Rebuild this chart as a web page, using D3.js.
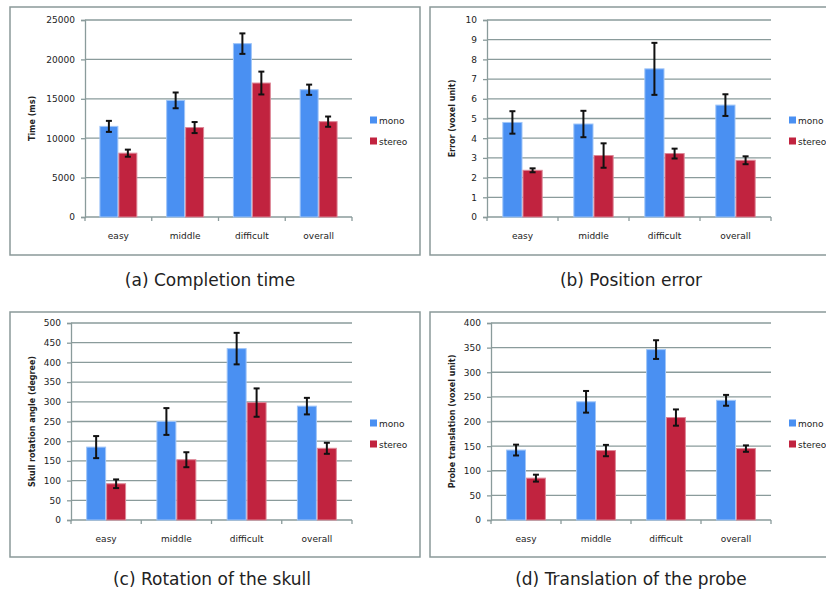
<!DOCTYPE html>
<html>
<head>
<meta charset="utf-8">
<script src="https://cdn.jsdelivr.net/npm/d3@7"></script>
<style>
  body { margin: 0; background: #fff; }
  svg { display: block; }
  text { font-family: "DejaVu Sans", sans-serif; fill: #222; }
</style>
</head>
<body>
<svg id="chart" width="826" height="590"></svg>
<script>
const categories = ["easy", "middle", "difficult", "overall"];
const series = ["mono", "stereo"];

// (a) completion time, ms
const timeMono = [11500, 14800, 22000, 16150];
const timeMonoErr = [700, 1000, 1300, 650];
const timeStereo = [8100, 11350, 17000, 12100];
const timeStereoErr = [450, 700, 1450, 650];

// (b) position error, voxel unit
const errorMono = [4.8, 4.72, 7.52, 5.68];
const errorMonoErr = [0.57, 0.67, 1.32, 0.55];
const errorStereo = [2.37, 3.12, 3.22, 2.88];
const errorStereoErr = [0.1, 0.62, 0.25, 0.2];

// (c) skull rotation angle, degree
const rotMono = [185, 250, 435, 289];
const rotMonoErr = [28, 34, 40, 21];
const rotStereo = [92, 153, 298, 182];
const rotStereoErr = [11, 19, 36, 14];

// (d) probe translation, voxel unit
const transMono = [142, 240, 346, 243];
const transMonoErr = [11, 22, 19, 11];
const transStereo = [85, 141, 208, 145];
const transStereoErr = [7, 11.5, 16.5, 6.5];

const colors = { mono: "#4a90f2", stereo: "#c1233f" };
const edge = { mono: "#9fc5f8", stereo: "#dd8797" };
const gridColor = "#8a9b9b";

const svg = d3.select("#chart");

function drawPanel(p) {
  const g = svg.append("g");
  g.append("rect")
    .attr("x", p.frame[0]).attr("y", p.frame[1])
    .attr("width", p.frame[2] - p.frame[0]).attr("height", p.frame[3] - p.frame[1])
    .attr("fill", "none").attr("stroke", "#8a9999").attr("stroke-width", 1.5);

  const x0 = d3.scaleBand().domain(categories).range([p.left, p.right]);
  const x1 = d3.scaleBand().domain(series).range([0, x0.bandwidth()]).paddingOuter(0.76);
  const y = d3.scaleLinear().domain([0, p.max]).range([p.bottom, p.top]);
  const ticks = d3.range(0, p.max + p.step / 2, p.step);

  // gridlines
  g.append("g").selectAll("line").data(ticks.slice(1)).join("line")
    .attr("x1", p.left).attr("x2", p.right)
    .attr("y1", d => y(d)).attr("y2", d => y(d))
    .attr("stroke", gridColor).attr("stroke-width", 1.3);

  // y axis
  const ya = g.append("g").attr("transform", `translate(${p.left},0)`)
    .call(d3.axisLeft(y).tickValues(ticks).tickSize(4).tickPadding(6).tickFormat(d3.format("d")));
  ya.select(".domain").attr("stroke", gridColor).attr("stroke-width", 1.3);
  ya.selectAll(".tick line").attr("stroke", gridColor).attr("stroke-width", 1.3);
  ya.selectAll(".tick text").attr("font-size", 9).attr("font-family", "DejaVu Sans").attr("fill", "#222");

  // x axis
  const bounds = categories.map(c => x0(c)).concat([p.right]);
  g.append("line").attr("x1", p.left).attr("x2", p.right)
    .attr("y1", p.bottom).attr("y2", p.bottom)
    .attr("stroke", gridColor).attr("stroke-width", 1.3);
  g.append("g").selectAll("line").data(bounds).join("line")
    .attr("x1", d => d).attr("x2", d => d)
    .attr("y1", p.bottom).attr("y2", p.bottom + 4)
    .attr("stroke", gridColor).attr("stroke-width", 1.3);
  g.append("g").selectAll("text").data(categories).join("text")
    .attr("x", d => x0(d) + x0.bandwidth() / 2)
    .attr("y", p.bottom + 22)
    .attr("text-anchor", "middle").attr("font-size", 9)
    .text(d => d);

  // bars + error bars
  const rows = [];
  categories.forEach((c, i) => {
    rows.push({ c, s: "mono", v: p.mono[i], e: p.monoErr[i] });
    rows.push({ c, s: "stereo", v: p.stereo[i], e: p.stereoErr[i] });
  });
  g.append("g").selectAll("rect").data(rows).join("rect")
    .attr("x", d => x0(d.c) + x1(d.s) + 0.5)
    .attr("y", d => y(d.v))
    .attr("width", x1.bandwidth() - 1)
    .attr("height", d => p.bottom - y(d.v))
    .attr("fill", d => colors[d.s])
    .attr("stroke", d => edge[d.s]).attr("stroke-width", 1);

  const eb = g.append("g").selectAll("g").data(rows).join("g")
    .attr("transform", d => `translate(${x0(d.c) + x1(d.s) + x1.bandwidth() / 2},0)`)
    .attr("stroke", "#111").attr("stroke-width", 2);
  eb.append("line").attr("y1", d => y(d.v + d.e)).attr("y2", d => y(d.v - d.e));
  eb.append("line").attr("x1", -3).attr("x2", 3).attr("y1", d => y(d.v + d.e)).attr("y2", d => y(d.v + d.e));
  eb.append("line").attr("x1", -3).attr("x2", 3).attr("y1", d => y(d.v - d.e)).attr("y2", d => y(d.v - d.e));

  // axis title
  const cy = (p.top + p.bottom) / 2;
  g.append("text")
    .attr("transform", `translate(${p.labelX},${cy}) rotate(-90)`)
    .attr("text-anchor", "middle").attr("font-size", 8).attr("font-weight", "bold")
    .text(p.label);

  // legend
  const lg = g.append("g").selectAll("g").data(series).join("g")
    .attr("transform", (d, i) => `translate(${p.right + 18},${cy + 2 + i * 21})`);
  lg.append("rect").attr("x", 0).attr("y", -4).attr("width", 7).attr("height", 7)
    .attr("fill", d => colors[d]);
  lg.append("text").attr("x", 9).attr("y", 3).attr("font-size", 9).text(d => d);

  // caption
  svg.append("text")
    .attr("x", p.capX).attr("y", p.capY)
    .attr("text-anchor", "middle").attr("font-size", 17)
    .text(p.caption);
}

drawPanel({
  frame: [10, 7, 420, 255], left: 85, right: 352, top: 20, bottom: 217,
  max: 25000, step: 5000, labelX: 35, label: "Time (ms)",
  mono: timeMono, monoErr: timeMonoErr, stereo: timeStereo, stereoErr: timeStereoErr,
  caption: "(a) Completion time", capX: 210, capY: 286
});
drawPanel({
  frame: [430, 7, 840, 255], left: 487, right: 771, top: 20, bottom: 217,
  max: 10, step: 1, labelX: 455, label: "Error (voxel unit)",
  mono: errorMono, monoErr: errorMonoErr, stereo: errorStereo, stereoErr: errorStereoErr,
  caption: "(b) Position error", capX: 631, capY: 286
});
drawPanel({
  frame: [10, 312, 420, 557], left: 71, right: 352, top: 323, bottom: 520,
  max: 500, step: 50, labelX: 35, label: "Skull rotation angle (degree)",
  mono: rotMono, monoErr: rotMonoErr, stereo: rotStereo, stereoErr: rotStereoErr,
  caption: "(c) Rotation of the skull", capX: 212, capY: 585
});
drawPanel({
  frame: [430, 312, 840, 557], left: 491, right: 771, top: 323, bottom: 520,
  max: 400, step: 50, labelX: 455, label: "Probe translation (voxel unit)",
  mono: transMono, monoErr: transMonoErr, stereo: transStereo, stereoErr: transStereoErr,
  caption: "(d) Translation of the probe", capX: 631, capY: 585
});
</script>
</body>
</html>
